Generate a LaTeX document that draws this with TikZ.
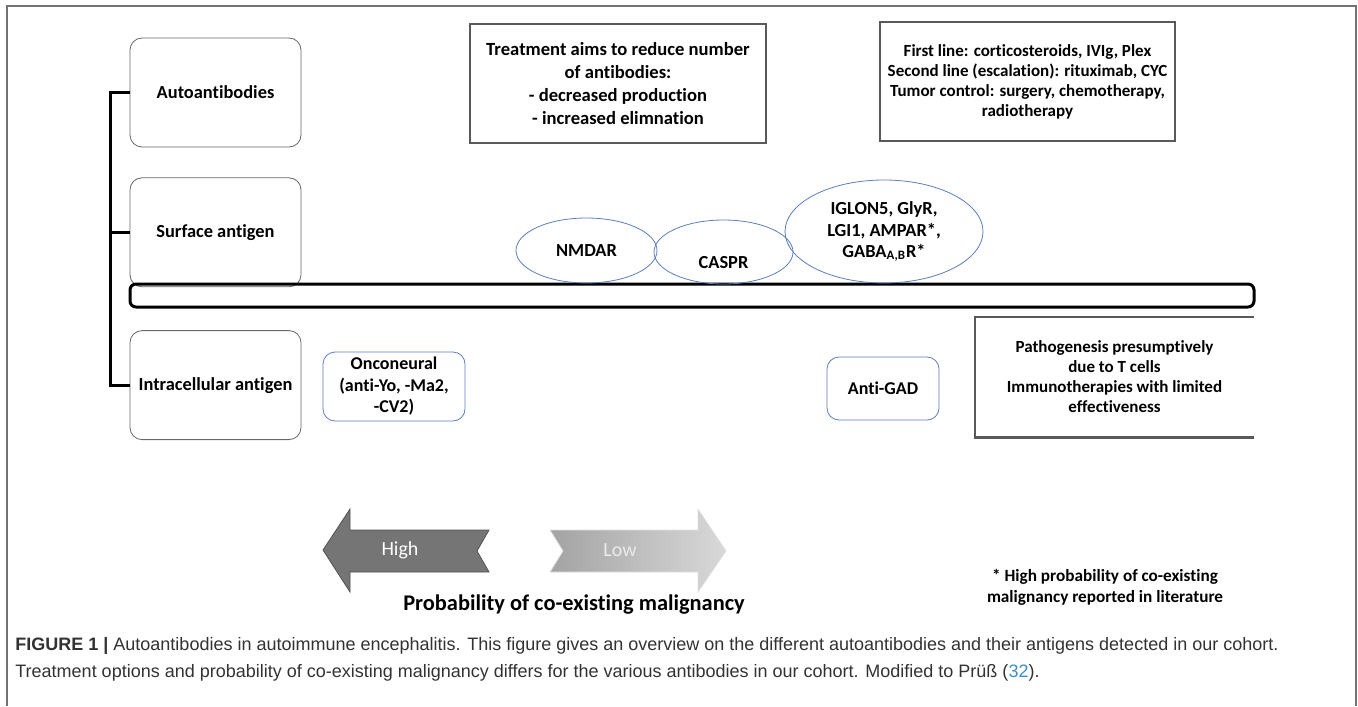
\documentclass[tikz,border=0pt]{standalone}
\usepackage{fontspec}
\setmainfont{Carlito}[Ligatures=NoCommon]
\newfontfamily\capfont{Liberation Sans}
\usetikzlibrary{positioning,shapes.geometric}
\definecolor{ovblue}{RGB}{92,126,190}
\definecolor{capgray}{RGB}{50,50,50}
\definecolor{refblue}{RGB}{60,140,200}
\tikzset{
  lvl/.style={draw=black!60, rounded corners=6pt, minimum width=85.5pt, minimum height=54.5pt, font=\bfseries\fontsize{9.2}{11}\selectfont},
  aim/.style={draw=black!65, line width=1.1pt, align=center},
  oval/.style={ellipse, draw=ovblue, inner sep=0pt},
  ovtxt/.style={align=center, font=\bfseries\fontsize{9.2}{10.75}\selectfont},
  ag/.style={draw=ovblue, rounded corners=6pt, align=center, inner sep=0pt, font=\bfseries\fontsize{9}{10.75}\selectfont},
  brk/.style={line width=1.5pt}
}
\begin{document}
\begin{tikzpicture}[x=0.5pt,y=-0.5pt]
\useasboundingbox (0,0) rectangle (1358,706);
\draw[black!55, line width=0.6pt] (7,706) -- (7,6) -- (1356,6) -- (1356,706);
%----------------------------------
\node[lvl] (ab) at (215.5,92.5) {Autoantibodies};
\node[lvl, below=15pt of ab] (sa) {Surface antigen};
\node[lvl, below=21.5pt of sa] (ia) {Intracellular antigen};
\draw[brk] (ab.west) -- ++(-19,0) coordinate (k) |- (ia.west);
\draw[brk] (sa.west) -- (sa.west -| k);
%----------------------------------
\node[draw, line width=1.5pt, rounded corners=3pt, inner sep=0pt, minimum width=562pt, minimum height=11.5pt] (mem) at (692,295.5) {};
%----------------------------------
\node[aim, minimum width=148pt, minimum height=59.5pt, font=\bfseries\fontsize{9.3}{11.5}\selectfont] (tr) at (618,83.5)
  {Treatment aims to reduce number\\ of antibodies:\\ - decreased production\\ - increased elimnation};
\node[aim, minimum width=147.5pt, minimum height=59.5pt, font=\bfseries\fontsize{8.5}{10}\selectfont] (fl) at (1027.5,81.5)
  {First line: corticosteroids, IVIg, Plex\\ Second line (escalation): rituximab, CYC\\ Tumor control: surgery, chemotherapy,\\ radiotherapy};
%----------------------------------
\node[oval, minimum width=70.5pt, minimum height=32.5pt, label={[ovtxt]center:NMDAR}] (nm) at (586.5,250.5) {};
\node[oval, minimum width=69.5pt, minimum height=32pt, label={[ovtxt, yshift=-5.5pt]center:CASPR}] (cs) at (723.5,252) {};
\node[oval, minimum width=99pt, minimum height=51.5pt, label={[ovtxt]center:IGLON5, GlyR,\\ LGI1, AMPAR*,\\ GABA\textsubscript{A,B}R*}] (ig) at (884,231.5) {};
%----------------------------------
\node[ag, minimum width=71pt, minimum height=34.5pt] (on) at (394,386.5) {Onconeural\\ (anti-Yo, -Ma2,\\ -CV2)};
\node[ag, minimum width=56pt, minimum height=31.5pt] (gad) at (883,388.5) {Anti-GAD};
\node[minimum width=139.5pt, minimum height=60pt, align=center, font=\bfseries\fontsize{8.5}{10}\selectfont] (pg) at (1114.5,377)
  {Pathogenesis presumptively\\ due to T cells\\ Immunotherapies with limited\\ effectiveness};
\draw[black!65, line width=1.1pt] (pg.north east) -- (pg.north west) -- (pg.south west) -- (pg.south east);
%----------------------------------
\fill[black!54, draw=black!68, line width=0.4pt] (323,550) -- (350,509) -- (350,530) -- (489,530) -- (477,551) -- (489,572) -- (350,572) -- (350,592) -- cycle;
\node[text=white, font=\fontsize{10}{12}\selectfont] (hi) at (400,550) {High};
\shade[left color=black!36, right color=black!15, draw=black!12, line width=0.4pt] (550,530) -- (698,530) -- (698,509) -- (726,551) -- (698,592) -- (698,572) -- (550,572) -- (563,551) -- cycle;
\node[text=white!92!black, font=\fontsize{10}{12}\selectfont] (lo) at (620,550) {Low};
%----------------------------------
\node[font=\bfseries\fontsize{11.2}{13}\selectfont] (pr) at (574,605) {Probability of co-existing malignancy};
\node[align=center, font=\bfseries\fontsize{8.6}{10.5}\selectfont] (nt) at (1105,587) {* High probability of co-existing\\ malignancy reported in literature};
%----------------------------------
\node[anchor=west, align=left, inner sep=0pt, text=capgray, font=\capfont\fontsize{9}{13.5}\selectfont] (cap) at (15,659.5)
  {{\bfseries FIGURE 1 |} Autoantibodies in autoimmune encephalitis. This figure gives an overview on the different autoantibodies and their antigens detected in our cohort.\\
   Treatment options and probability of co-existing malignancy differs for the various antibodies in our cohort. Modified to Prüß (\textcolor{refblue}{32}).};
\end{tikzpicture}
\end{document}
